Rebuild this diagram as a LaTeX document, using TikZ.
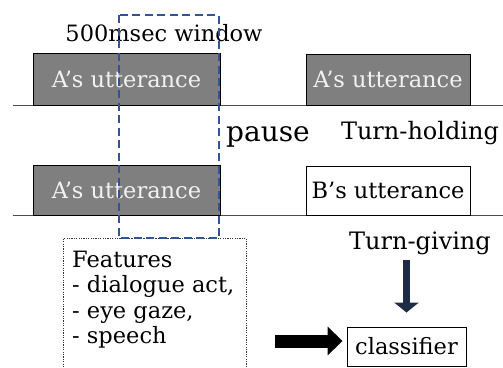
\documentclass[tikz,border=0pt]{standalone}
\usepackage{fontspec}
\setmainfont{DejaVu Serif}
\usetikzlibrary{arrows.meta}
\definecolor{boxgray}{HTML}{7F7F7F}
\definecolor{boxtext}{HTML}{F2F2F2}
\definecolor{winblue}{HTML}{2F5597}
\definecolor{navyarrow}{HTML}{1E2B45}
\tikzset{
  lbl/.style={font=\fontsize{22.5}{26}\selectfont, inner sep=0pt},
  speaking/.style={draw=black, line width=0.9pt, fill=boxgray, text=boxtext,
    font=\fontsize{22.5}{26}\selectfont, inner sep=0pt},
  listening/.style={draw=black, line width=0.9pt, fill=white,
    font=\fontsize{22.5}{26}\selectfont, inner sep=0pt},
  timeline/.style={draw=black!70, line width=0.9pt},
  window/.style={draw=winblue, line width=1.7pt, dash pattern=on 8pt off 4.5pt},
  featbox/.style={draw=black!80, line width=0.8pt, dash pattern=on 1.2pt off 1.2pt},
  downarrow/.style={draw=navyarrow, line width=7pt,
    -{Triangle[width=24pt,length=10pt]}},
  inarrow/.style={draw=black, line width=13pt,
    -{Triangle[width=28pt,length=15pt]}},
}
\begin{document}
\begin{tikzpicture}[x=1pt,y=-1pt]
\useasboundingbox (0,0) rectangle (503,367);

% time lines of the two rows
\coordinate (l1a) at (13,105);
\coordinate (l1b) at (503,105);
\coordinate (l2a) at (13,215);
\coordinate (l2b) at (503,215);
\draw[timeline] (l1a) -- (l1b);
\draw[timeline] (l2a) -- (l2b);

% utterances, upper row
\node[speaking, minimum width=187pt, minimum height=52pt] (a1) at (126.5,79) {A’s utterance};
\node[speaking, minimum width=164pt, minimum height=51pt] (a2) at (388,79.5) {A’s utterance};

% utterances, lower row
\node[speaking, minimum width=187pt, minimum height=50pt] (a3) at (126.5,190) {A’s utterance};
\node[listening, minimum width=164pt, minimum height=49pt] (b1) at (388,190.5) {B’s utterance};

% labels
\node[lbl] (win) at (164,33) {500msec window};
\node[lbl, font=\fontsize{28}{31}\selectfont] (pause) at (268,137) {pause};
\node[lbl, font=\fontsize{24}{27}\selectfont] (hold) at (420,133) {Turn-holding};
\node[lbl, font=\fontsize{24}{27}\selectfont] (give) at (420,243) {Turn-giving};

% feature box
\node[featbox, minimum width=183pt, minimum height=140pt, anchor=north west, inner sep=0pt] (feat) at (63,238) {};
\node[lbl, align=left, font=\fontsize{22.5}{25.5}\selectfont, anchor=north west] (feattext) at (72,250.5)
  {Features\\- dialogue act,\\- eye gaze,\\- speech};

% 500 msec analysis window
\draw[window] (119,15) rectangle (219,238);

% classifier
\node[listening, minimum width=119pt, minimum height=39pt] (cls) at (406.5,346.5) {classifier};

% arrows
\draw[downarrow, shorten <=5pt, shorten >=14pt] (cls.north |- give.south) -- (cls.north);
\draw[inarrow, shorten <=28pt, shorten >=4pt] (feat.east |- 0,341) -- (cls.west |- 0,341);
\end{tikzpicture}
\end{document}
